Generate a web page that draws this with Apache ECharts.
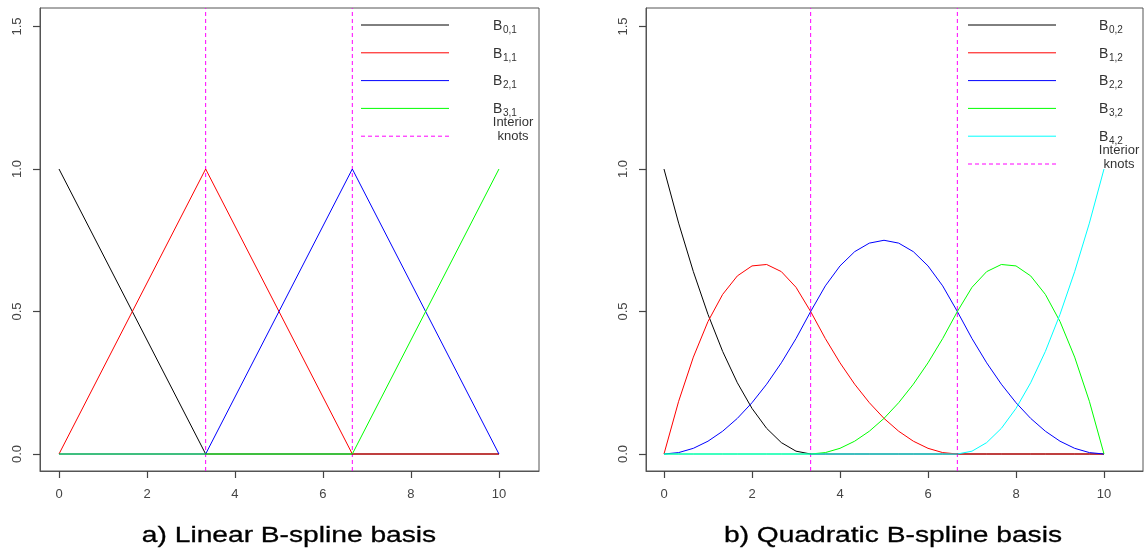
<!DOCTYPE html>
<html><head><meta charset="utf-8">
<script src="https://cdn.jsdelivr.net/npm/echarts@6/dist/echarts.min.js"></script>
<style>html,body{margin:0;padding:0;background:#fff}#c{width:1144px;height:551px}</style>
</head><body><div id="c"></div>
<script>
// ---- data ----
const xTicks = [0, 2, 4, 6, 8, 10];
const yTicks = [0, 0.5, 1, 1.5];
const knots = [3.333, 6.667];
const titleA = 'a) Linear B-spline basis';
const titleB = 'b) Quadratic B-spline basis';

// linear basis: [x, y] vertices
const linB0 = [[0, 1], [3.333, 0], [10, 0]];
const linB1 = [[0, 0], [3.333, 1], [6.667, 0], [10, 0]];
const linB2 = [[0, 0], [3.333, 0], [6.667, 1], [10, 0]];
const linB3 = [[0, 0], [6.667, 0], [10, 1]];

// quadratic basis sampled values
const qx = [0,0.333,0.667,1,1.333,1.667,2,2.333,2.667,3,3.333,3.667,4,4.333,4.667,5,5.333,5.667,6,6.333,6.667,7,7.333,7.667,8,8.333,8.667,9,9.333,9.667,10];
const qB0 = [1,0.81,0.64,0.49,0.36,0.25,0.16,0.09,0.04,0.01,0,0,0,0,0,0,0,0,0,0,0,0,0,0,0,0,0,0,0,0,0];
const qB1 = [0,0.185,0.34,0.465,0.56,0.625,0.66,0.665,0.64,0.585,0.5,0.405,0.32,0.245,0.18,0.125,0.08,0.045,0.02,0.005,0,0,0,0,0,0,0,0,0,0,0];
const qB2 = [0,0.005,0.02,0.045,0.08,0.125,0.18,0.245,0.32,0.405,0.5,0.59,0.66,0.71,0.74,0.75,0.74,0.71,0.66,0.59,0.5,0.405,0.32,0.245,0.18,0.125,0.08,0.045,0.02,0.005,0];
const qB3 = [0,0,0,0,0,0,0,0,0,0,0,0.005,0.02,0.045,0.08,0.125,0.18,0.245,0.32,0.405,0.5,0.585,0.64,0.665,0.66,0.625,0.56,0.465,0.34,0.185,0];
const qB4 = [0,0,0,0,0,0,0,0,0,0,0,0,0,0,0,0,0,0,0,0,0,0.01,0.04,0.09,0.16,0.25,0.36,0.49,0.64,0.81,1];

const legA = [['B','0,1'],['B','1,1'],['B','2,1'],['B','3,1']];
const legB = [['B','0,2'],['B','1,2'],['B','2,2'],['B','3,2'],['B','4,2']];
const colors = ['#000000', '#FF0000', '#0000FF', '#00FF00', '#00FFFF'];
const knotColor = '#FF00FF';

// ---- chart ----
const FONT = 'Liberation Sans, Arial, sans-serif';
const Y_MIN = -0.0596, Y_MAX = 1.565;
const chart = echarts.init(document.getElementById('c'));

function xAxisCfg(idx, min, max) {
  return {
    type: 'value', gridIndex: idx, min: min, max: max,
    axisLine: {show: true, onZero: false, lineStyle: {color: '#555'}}, splitLine: {show: false},
    axisTick: {show: true, inside: false, length: 7, customValues: xTicks, lineStyle: {color: '#444', width: 1.2}},
    axisLabel: {customValues: xTicks, margin: 17, color: '#444', fontSize: 13, fontFamily: FONT}
  };
}
function yAxisCfg(idx) {
  return {
    type: 'value', gridIndex: idx, min: Y_MIN, max: Y_MAX,
    axisLine: {show: true, onZero: false, lineStyle: {color: '#555'}}, splitLine: {show: false},
    axisTick: {show: true, inside: false, length: 7, customValues: yTicks, lineStyle: {color: '#444', width: 1.2}},
    axisLabel: {customValues: yTicks, rotate: 90, margin: 16, color: '#444', fontSize: 13, fontFamily: FONT,
      formatter: v => v.toFixed(1)}
  };
}
const zip = (xs, ys) => xs.map((x, i) => [x, ys[i]]);
function lineSeries(data, color, gi) {
  return {type: 'line', xAxisIndex: gi, yAxisIndex: gi, data: data, showSymbol: false, symbol: 'none',
    color: color, lineStyle: {color: color, width: 1}, silent: true, z: 3};
}
function knotSeries(k, gi) {
  return {type: 'line', xAxisIndex: gi, yAxisIndex: gi, data: [[k, Y_MIN], [k, Y_MAX]], showSymbol: false, symbol: 'none',
    color: knotColor, lineStyle: {color: knotColor, type: [4, 3], width: 1}, silent: true, z: 2};
}

const series = [
  lineSeries(linB0, colors[0], 0), lineSeries(linB1, colors[1], 0),
  lineSeries(linB2, colors[2], 0), lineSeries(linB3, colors[3], 0),
  ...knots.map(k => knotSeries(k, 0)),
  lineSeries(zip(qx, qB0), colors[0], 1), lineSeries(zip(qx, qB1), colors[1], 1),
  lineSeries(zip(qx, qB2), colors[2], 1), lineSeries(zip(qx, qB3), colors[3], 1),
  lineSeries(zip(qx, qB4), colors[4], 1),
  ...knots.map(k => knotSeries(k, 1))
];

// legends (graphic)
function legend(items, lx1, lx2, tx, y0, dy) {
  const g = [];
  items.forEach((it, i) => {
    const y = y0 + i * dy;
    g.push({type: 'line', shape: {x1: lx1, y1: y, x2: lx2, y2: y}, style: {stroke: colors[i], lineWidth: 1}});
    g.push({type: 'text', x: tx, y: y + 1, style: {text: it[0], font: '14px ' + FONT, fill: '#333', verticalAlign: 'middle'}});
    g.push({type: 'text', x: tx + 10, y: y + 5, style: {text: it[1], font: '10px ' + FONT, fill: '#333', verticalAlign: 'middle'}});
  });
  const yk = y0 + items.length * dy;
  g.push({type: 'line', shape: {x1: lx1, y1: yk, x2: lx2, y2: yk}, style: {stroke: knotColor, lineWidth: 1, lineDash: [4, 3]}});
  g.push({type: 'text', x: tx + 20, y: yk - 14, style: {text: 'Interior', font: '13px ' + FONT, fill: '#333', align: 'center', verticalAlign: 'middle'}});
  g.push({type: 'text', x: tx + 20, y: yk, style: {text: 'knots', font: '13px ' + FONT, fill: '#333', align: 'center', verticalAlign: 'middle'}});
  return g;
}
function titleText(t, cx) {
  return {type: 'text', x: cx, y: 536, scaleX: 1.28, style: {text: t, font: '22px ' + FONT, fill: '#000', stroke: '#000', lineWidth: 0.3, align: 'center', verticalAlign: 'middle'}};
}

chart.setOption({
  animation: false,
  backgroundColor: '#fff',
  grid: [
    {left: 40, width: 499, top: 8, height: 463, show: true, borderColor: '#555', borderWidth: 1, backgroundColor: 'transparent'},
    {left: 646, width: 497, top: 8, height: 463, show: true, borderColor: '#555', borderWidth: 1, backgroundColor: 'transparent'}
  ],
  xAxis: [xAxisCfg(0, -0.432, 10.91), xAxisCfg(1, -0.409, 10.886)],
  yAxis: [yAxisCfg(0), yAxisCfg(1)],
  series: series,
  graphic: [...legend(legA, 361, 449, 493, 25, 27.8), ...legend(legB, 968, 1056, 1099, 25, 27.8),
    titleText(titleA, 289), titleText(titleB, 893)]
});
</script></body></html>
